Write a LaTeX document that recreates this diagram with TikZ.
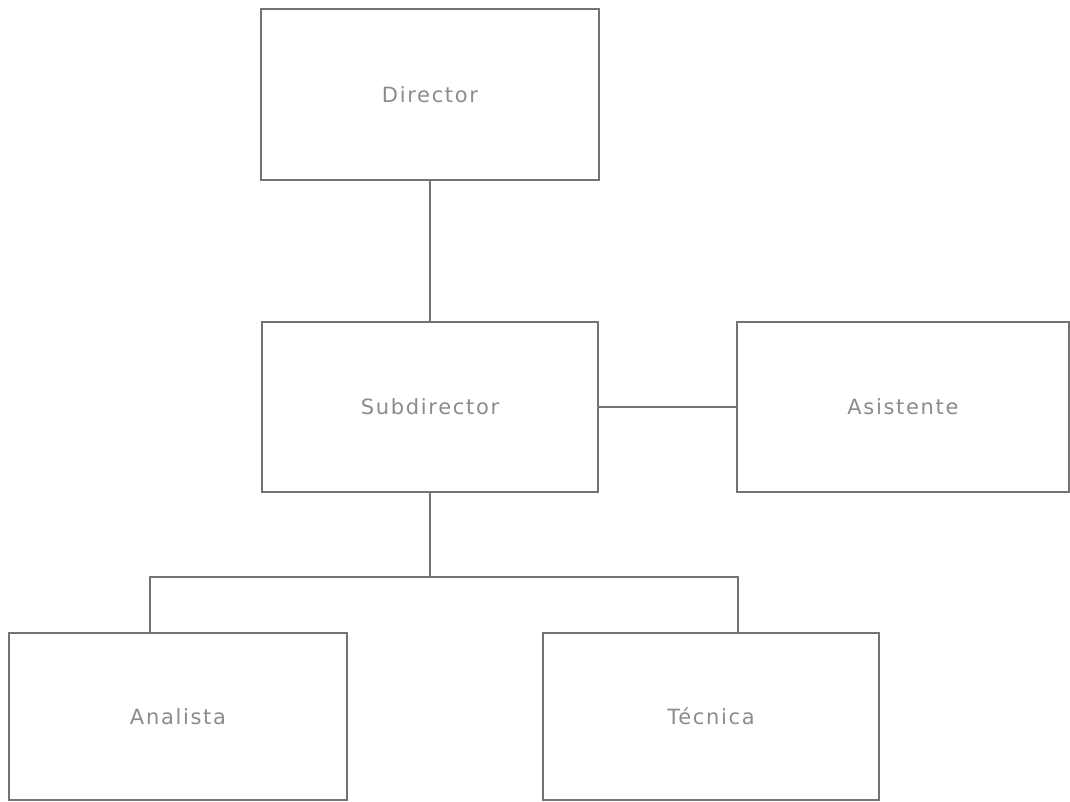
\documentclass[tikz,border=0pt]{standalone}
\usepackage{fontspec}
\setmainfont{DejaVu Sans}[LetterSpace=8]
\begin{document}
\begin{tikzpicture}[x=1pt,y=-1pt,
  box/.style={draw=black!55,line width=2.2pt,fill=white,rectangle,inner sep=0pt,
    font=\fontsize{21}{25}\selectfont,text=black!45},
  link/.style={draw=black!55,line width=2.2pt}]
\useasboundingbox[fill=white] (0,0) rectangle (1070,802);
\node[box,minimum width=338,minimum height=171] (dir) at (430,94.5) {Director};
\node[box,minimum width=336,minimum height=170] (sub) at (430,407) {Subdirector};
\node[box,minimum width=332,minimum height=170] (asi) at (903,407) {Asistente};
\node[box,minimum width=338,minimum height=167] (ana) at (178,716.5) {Analista};
\node[box,minimum width=336,minimum height=167] (tec) at (711,716.5) {Técnica};
\coordinate (bar) at (430,577);
\coordinate (bl) at (150,577);
\coordinate (br) at (738,577);
\draw[link] (dir.south) -- (sub.north);
\draw[link] (sub.east) -- (asi.west);
\draw[link] (sub.south) -- (bar);
\draw[link] (bl |- ana.north) -- (bl) -- (br) -- (br |- tec.north);
\end{tikzpicture}
\end{document}
